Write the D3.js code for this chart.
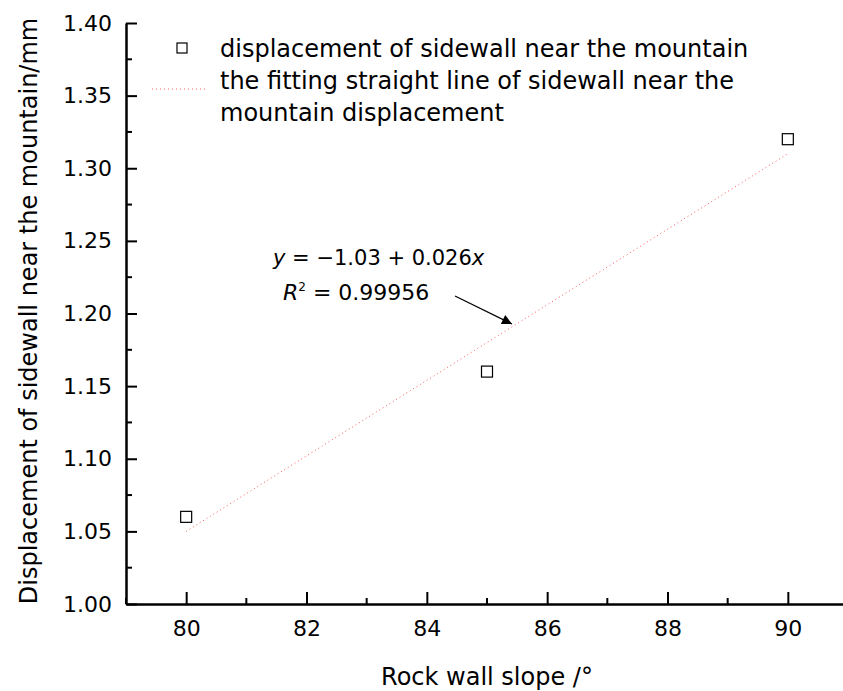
<!DOCTYPE html>
<html>
<head>
<meta charset="utf-8">
<script src="https://cdn.jsdelivr.net/npm/d3@7"></script>
<style>
  body { margin: 0; background: #fff; }
  svg { font-family: "DejaVu Sans", sans-serif; }
</style>
</head>
<body>
<svg id="chart" width="843" height="691"></svg>
<script>
// data
var slopes = [80, 85, 90];
var displacement = [1.06, 1.16, 1.32];
var fitIntercept = -1.03;
var fitSlope = 0.026;
var fitRange = [80, 90];
var xTicks = [80, 82, 84, 86, 88, 90];
var yTicks = [1.00, 1.05, 1.10, 1.15, 1.20, 1.25, 1.30, 1.35, 1.40];
var legendLabels = ["displacement of sidewall near the mountain",
  "the fitting straight line of sidewall near the", "mountain displacement"];

var svg = d3.select("#chart");
var plotLeft = 126, plotRight = 848, plotTop = 23, plotBottom = 604;

var x = d3.scaleLinear().domain([79, 91]).range([plotLeft, plotRight]);
var y = d3.scaleLinear().domain([1.00, 1.40]).range([plotBottom, plotTop]);

// minor ticks
var xMinor = d3.range(79, 91.01, 1).filter(d => xTicks.indexOf(d) < 0);
var yMinor = d3.range(1.025, 1.40, 0.05);

var tickFont = 22, labelFont = 24;

var xAxis = svg.append("g").attr("transform", `translate(0,${plotBottom})`)
  .call(d3.axisBottom(x).tickValues(xTicks).tickFormat(d3.format("d"))
    .tickSizeInner(-12).tickSizeOuter(0).tickPadding(16));
xAxis.append("g").selectAll("line").data(xMinor).join("line")
  .attr("x1", d => x(d)).attr("x2", d => x(d)).attr("y1", 0).attr("y2", -6)
  .attr("stroke", "#000").attr("stroke-width", 2);

var yAxis = svg.append("g").attr("transform", `translate(${plotLeft},0)`)
  .call(d3.axisLeft(y).tickValues(yTicks).tickFormat(d3.format(".2f"))
    .tickSizeInner(-11).tickSizeOuter(0).tickPadding(14));
yAxis.append("g").selectAll("line").data(yMinor).join("line")
  .attr("x1", 0).attr("x2", 6).attr("y1", d => y(d)).attr("y2", d => y(d))
  .attr("stroke", "#000").attr("stroke-width", 2);

svg.selectAll(".domain").attr("stroke", "#000").attr("stroke-width", 2.5);
svg.selectAll(".tick line").attr("stroke", "#000").attr("stroke-width", 2);
svg.selectAll(".tick text").attr("font-size", tickFont).attr("fill", "#000")
  .attr("font-family", "DejaVu Sans");

// axis titles
svg.append("text").attr("x", 487).attr("y", 685).attr("text-anchor", "middle")
  .attr("font-size", labelFont).text("Rock wall slope /°");
svg.append("text").attr("transform", "translate(37,311) rotate(-90)")
  .attr("text-anchor", "middle").attr("font-size", labelFont)
  .text("Displacement of sidewall near the mountain/mm");

// fitted line
var fitData = fitRange.map(v => [v, fitIntercept + fitSlope * v]);
svg.append("path").datum(fitData)
  .attr("d", d3.line().x(d => x(d[0])).y(d => y(d[1])))
  .attr("fill", "none").attr("stroke", "#ff5a5a").attr("stroke-width", 1)
  .attr("stroke-dasharray", "1,3");

// points
svg.selectAll(".pt").data(slopes).join("rect").attr("class", "pt")
  .attr("x", (d, i) => x(d) - 5.5).attr("y", (d, i) => y(displacement[i]) - 5.5)
  .attr("width", 11).attr("height", 11)
  .attr("fill", "none").attr("stroke", "#000").attr("stroke-width", 1.2);

// legend
var lg = svg.append("g");
lg.append("rect").attr("x", 177).attr("y", 43).attr("width", 10).attr("height", 10)
  .attr("fill", "none").attr("stroke", "#000").attr("stroke-width", 1.2);
lg.append("line").attr("x1", 152).attr("x2", 206).attr("y1", 89).attr("y2", 89)
  .attr("stroke", "#ff5a5a").attr("stroke-width", 1).attr("stroke-dasharray", "1,3");
lg.selectAll("text").data(legendLabels).join("text")
  .attr("x", 220).attr("y", (d, i) => 57 + i * 32)
  .attr("font-size", labelFont).text(d => d);

// equation annotation
var eq = svg.append("text").attr("x", 273).attr("y", 265).attr("font-size", 21);
eq.append("tspan").attr("font-style", "italic").text("y");
eq.append("tspan").text(" = −1.03 + 0.026");
eq.append("tspan").attr("font-style", "italic").text("x");
var r2 = svg.append("text").attr("x", 283).attr("y", 300).attr("font-size", 22);
r2.append("tspan").attr("font-style", "italic").text("R");
r2.append("tspan").attr("font-size", 12).attr("dy", -9).text("2");
r2.append("tspan").attr("dy", 9).text(" = 0.99956");

svg.append("defs").append("marker").attr("id", "arrow")
  .attr("viewBox", "0 0 10 10").attr("refX", 10).attr("refY", 5)
  .attr("markerWidth", 14).attr("markerHeight", 10).attr("markerUnits", "userSpaceOnUse")
  .attr("orient", "auto")
  .append("path").attr("d", "M0,0L10,5L0,10z").attr("fill", "#000");
svg.append("line").attr("x1", 455).attr("y1", 296).attr("x2", 512).attr("y2", 324)
  .attr("stroke", "#000").attr("stroke-width", 1.2).attr("marker-end", "url(#arrow)");
</script>
</body>
</html>
